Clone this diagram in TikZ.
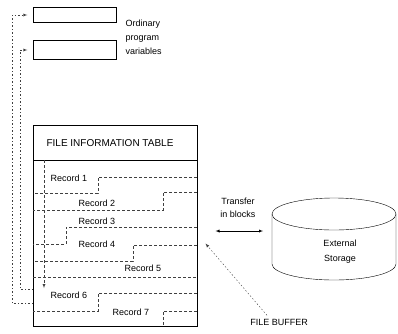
\documentclass[tikz,border=0pt]{standalone}
\usepackage{fontspec}
\setmainfont{Liberation Sans}

\begin{document}
\begin{tikzpicture}[x=1pt,y=-1pt,>=latex,font=\fontsize{9}{14}\selectfont,
		varbox/.style={draw,minimum width=83pt,inner sep=0pt},
		bound/.style={black!75,dash pattern=on 3pt off 2pt},
		ptr/.style={black!75,dash pattern=on 1.5pt off 2pt}]
			\useasboundingbox (0,0) rectangle (398,333);
			\node[varbox,minimum height=15pt] (var1) at (75,15) {};
			\node[varbox,minimum height=19pt] (var2) at (75,50) {};
			\node[anchor=west,align=left] (ordinary) at (122,37) {Ordinary\\program\\variables};
			\node[draw,line width=1pt,minimum width=164pt,minimum height=201pt,inner sep=0pt] (fit) at (115,225.5) {};
			\node[font=\fontsize{10}{12}\selectfont] (title) at (110,143) {FILE INFORMATION TABLE};
			\draw (33,160) -- (197,160);
			\node (rec1) at (69,178) {Record 1};
			\node (rec2) at (97,203) {Record 2};
			\node (rec3) at (97,221) {Record 3};
			\node (rec4) at (97,244) {Record 4};
			\node (rec5) at (143,268) {Record 5};
			\node (rec6) at (69,295) {Record 6};
			\node (rec7) at (131,312) {Record 7};
			\draw[bound] (197,177) -| (98,193) -- (33,193);
			\draw[bound] (197,192) -| (163,210) -- (33,210);
			\draw[bound] (197,227) -| (66,244) -- (33,244);
			\draw[bound] (197,245) -| (133,261) -- (33,261);
			\draw[bound] (33,277) -- (197,277);
			\draw[bound] (197,293) -| (98,311) -- (33,311);
			\draw[bound] (197,311) -| (163,326);
			\draw[bound,->] (44,160) -- (44,288);
			\draw[ptr,->,shorten >=6pt] (33,303) -| (12,15) -- (var1.west);
			\draw[ptr,->,shorten >=6pt] (33,289) -| (20,50) -- (var2.west);
			\node[align=center,font=\fontsize{9}{13}\selectfont] (transfer) at (238,208) {Transfer\\in blocks};
			\coordinate (disk) at (272,231);
			\draw[<->,shorten <=18pt,shorten >=9pt] (fit.east |- disk) -- (disk);
			\draw (272,214) -- (272,264) arc[start angle=180,end angle=0,x radius=62,y radius=16] -- (396,214);
			\draw (334,214) ellipse[x radius=62,y radius=16];
			\node[align=center,font=\fontsize{9}{15}\selectfont] (store) at (340,252) {External\\Storage};
			\node (buffer) at (279,322) {FILE BUFFER};
			\draw[ptr,->] ([xshift=-12pt]buffer.north) -- ([xshift=8pt,yshift=-18pt]fit.east);
			\end{tikzpicture}
\end{document}
